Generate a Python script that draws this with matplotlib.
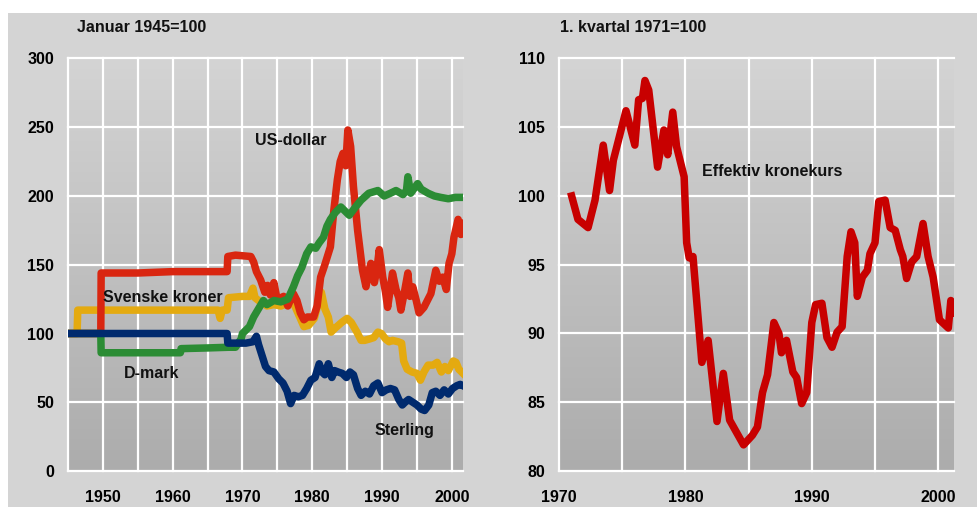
"""Valutakurser mot norske kroner og effektiv kronekurs."""

import matplotlib
matplotlib.use('Agg')
import matplotlib.pyplot as plt
import numpy as np
from matplotlib import font_manager

# Pick a font close to the original (Arial-like bold)
names = {f.name for f in font_manager.fontManager.ttflist}
FONT = 'Liberation Sans' if 'Liberation Sans' in names else 'DejaVu Sans'
plt.rcParams['font.family'] = [FONT, 'DejaVu Sans']

#########################################################################################
# Data: left panel, Januar 1945=100

usd_years = [1945, 1949.7, 1949.75, 1955, 1960, 1965, 1967.8, 1967.9, 1969, 1971.2, 1971.6,
             1972.0, 1972.6, 1973.2, 1973.6, 1974.0, 1974.5, 1975.0, 1975.5, 1975.9, 1976.5,
             1977.3, 1977.8, 1978.3, 1978.8, 1979.3, 1980.2, 1980.7, 1981.2, 1981.8, 1982.6,
             1983.1, 1983.6, 1984.0, 1984.4, 1984.8, 1985.1, 1985.5, 1985.9, 1986.5, 1987.2,
             1987.7, 1988.0, 1988.4, 1988.9, 1989.3, 1989.6, 1990.1, 1990.5, 1990.8, 1991.2,
             1991.5, 1992.0, 1992.4, 1992.7, 1993.2, 1993.7, 1994.0, 1994.4, 1994.9, 1995.3,
             1996.0, 1996.5, 1997.0, 1997.7, 1998.2, 1998.7, 1999.2, 1999.6, 2000.0, 2000.3,
             2000.9, 2001.3, 2001.7]
usd_vals = [100, 100, 144, 144, 145, 145, 145, 156, 157, 156, 152,
            145, 139, 130, 135, 128, 137, 124, 126, 127, 120,
            129, 124, 115, 110, 112, 112, 120, 141, 150, 163,
            190, 212, 225, 231, 222, 248, 236, 207, 175, 146,
            134, 143, 151, 137, 148, 161, 141, 130, 119, 133,
            144, 132, 126, 117, 130, 144, 127, 134, 124, 115,
            119, 124, 129, 146, 138, 141, 132, 151, 158, 170,
            183, 172, 180]

dem_years = [1945, 1949.7, 1949.75, 1955, 1961.1, 1961.2, 1965, 1968, 1969.0, 1969.8, 1970.0,
             1971.0, 1971.6, 1972.3, 1973.0, 1973.5, 1974.5, 1975.5, 1976.5, 1977.3, 1977.9,
             1978.5, 1979.2, 1979.8, 1980.5, 1981.0, 1981.6, 1982.1, 1982.6, 1983.3, 1984.1,
             1985.3, 1986.2, 1987.0, 1988.1, 1989.4, 1990.3, 1991.2, 1992.0, 1993.0, 1993.5,
             1993.7, 1994.1, 1995.1, 1995.6, 1996.6, 1997.5, 1998.4, 1999.5, 2000.5, 2001.7]
dem_vals = [100, 100, 86, 86, 86, 89, 89.5, 90, 90, 96, 100,
            105, 112, 118, 124, 121, 124, 123, 125, 134, 142,
            148, 158, 163, 162, 166, 170, 178, 183, 188, 192,
            186, 192, 197, 202, 204, 200, 202, 204, 201, 204,
            214, 202, 209, 205, 202, 200, 199, 198, 199, 199]

sek_years = [1945, 1946.3, 1946.4, 1955, 1966.5, 1966.8, 1967.1, 1967.8, 1968.0, 1970, 1971.0,
             1971.5, 1971.8, 1972.3, 1973.0, 1973.5, 1974.5, 1975.5, 1976.5, 1977.0, 1977.5,
             1978.2, 1978.8, 1979.5, 1980.3, 1980.8, 1981.3, 1981.8, 1982.3, 1982.7, 1983.3,
             1984.2, 1985.0, 1985.6, 1986.4, 1987.0, 1987.5, 1988.2, 1988.8, 1989.4, 1989.9,
             1990.5, 1991.0, 1991.5, 1992.3, 1992.8, 1993.1, 1993.6, 1994.3, 1995.0, 1995.5,
             1996.0, 1996.6, 1997.3, 1997.9, 1998.5, 1999.0, 1999.5, 2000.2, 2000.6, 2001.0,
             2001.6]
sek_vals = [100, 100, 117, 117, 117, 111, 117, 117, 126, 127, 127,
            133, 126, 124, 122, 120, 121, 120, 122, 125, 120,
            112, 105, 106, 111, 121, 130, 118, 112, 101, 104,
            108, 111, 108, 101, 95, 95, 96, 97, 101, 100,
            96, 94, 95, 94, 93, 80, 74, 72, 71, 66,
            72, 77, 77, 79, 72, 76, 73, 80, 79, 74,
            71]

gbp_years = [1945, 1967.8, 1967.9, 1969, 1970.5, 1971.5, 1972.0, 1972.3, 1972.8, 1973.3, 1973.8,
             1974.5, 1975.2, 1975.8, 1976.4, 1976.9, 1977.4, 1978.0, 1978.6, 1979.2, 1979.8,
             1980.4, 1981.0, 1981.4, 1981.8, 1982.3, 1982.8, 1983.2, 1983.7, 1984.3, 1984.9,
             1985.4, 1985.9, 1986.5, 1987.0, 1987.6, 1988.2, 1988.8, 1989.4, 1990.0, 1990.6,
             1991.2, 1991.8, 1992.4, 1992.9, 1993.3, 1993.8, 1994.4, 1995.0, 1995.6, 1996.1,
             1996.7, 1997.2, 1997.7, 1998.3, 1998.9, 1999.5, 2000.1, 2000.7, 2001.2, 2001.6]
gbp_vals = [100, 100, 93, 93, 93, 94, 98, 92, 84, 76, 73,
            72, 67, 64, 58, 49, 55, 54, 55, 60, 66,
            68, 78, 72, 70, 78, 68, 73, 72, 71, 68,
            72, 70, 60, 55, 58, 56, 62, 64, 57, 59,
            60, 59, 52, 48, 50, 52, 50, 48, 45, 44,
            48, 57, 58, 55, 59, 56, 60, 62, 63, 62]

# Data: right panel, 1. kvartal 1971=100
nok_years = [1971.0, 1971.5, 1972.3, 1972.85, 1973.5, 1974.0, 1974.3, 1975.3, 1976.0, 1976.3,
             1976.6, 1976.8, 1977.1, 1977.8, 1978.3, 1978.6, 1979.0, 1979.3, 1979.9, 1980.1,
             1980.3, 1980.6, 1981.3, 1981.8, 1982.5, 1983.0, 1983.5, 1984.6, 1985.3, 1985.7,
             1986.1, 1986.5, 1987.0, 1987.4, 1987.6, 1988.0, 1988.5, 1988.8, 1989.2, 1989.6,
             1990.0, 1990.3, 1990.8, 1991.2, 1991.6, 1992.0, 1992.4, 1992.8, 1993.1, 1993.4,
             1993.6, 1994.0, 1994.4, 1994.6, 1995.0, 1995.3, 1995.8, 1996.2, 1996.6, 1997.0,
             1997.2, 1997.5, 1997.9, 1998.3, 1998.8, 1999.2, 1999.6, 2000.1, 2000.8, 2001.0,
             2001.25]
nok_vals = [100.0, 98.3, 97.7, 99.7, 103.7, 100.4, 102.6, 106.2, 103.7, 107.0,
            107.1, 108.4, 107.7, 102.1, 104.8, 103.0, 106.1, 103.6, 101.4, 96.6,
            95.5, 95.6, 87.9, 89.5, 83.6, 87.1, 83.7, 81.9, 82.6, 83.2,
            85.7, 87.0, 90.8, 90.0, 88.6, 89.5, 87.2, 86.8, 84.9, 85.7,
            90.8, 92.1, 92.2, 89.7, 89.0, 90.1, 90.5, 95.6, 97.4, 96.6,
            92.7, 94.1, 94.6, 95.8, 96.6, 99.6, 99.7, 97.7, 97.5, 96.1,
            95.6, 94.0, 95.2, 95.6, 98.0, 95.6, 94.1, 91.0, 90.4, 92.4,
            91.5]

left_ticks_y = [0, 50, 100, 150, 200, 250, 300]
right_ticks_y = [80, 85, 90, 95, 100, 105, 110]

#########################################################################################

W, H = 978, 507
BG = '#d4d4d4'


def px(x, y):
    """Pixel position (from top left) to figure fraction."""
    return x / W, 1 - y / H


def style_axes(ax, xlim, ylim, xgrid, ygrid, xlabels):
    """Gradient background, white grid, bold tick labels."""

    ax.set_xlim(xlim)
    ax.set_ylim(ylim)
    ax.patch.set_visible(False)

    # Vertical grey gradient, light at top and darker at bottom
    grad = np.linspace(0, 1, 256).reshape(-1, 1)
    cmap = matplotlib.colors.LinearSegmentedColormap.from_list('g', ['#acacac', '#d4d4d4'])
    ax.imshow(grad, extent=[xlim[0], xlim[1], ylim[0], ylim[1]], origin='lower',
              aspect='auto', cmap=cmap, zorder=0)

    for xv in xgrid:
        ax.axvline(xv, color='white', lw=1.6, zorder=1, clip_on=False)
    for yv in ygrid:
        ax.axhline(yv, color='white', lw=1.6, zorder=1, clip_on=False)

    for s in ax.spines.values():
        s.set_visible(False)

    ax.set_xticks(xgrid)
    ax.set_xticklabels(xlabels)
    ax.set_yticks(ygrid)
    ax.tick_params(length=0, labelsize=11.5, colors='black')
    ax.tick_params(axis='x', pad=14)
    ax.tick_params(axis='y', pad=10)
    for lab in ax.get_xticklabels() + ax.get_yticklabels():
        lab.set_fontweight('bold')


fig = plt.figure(figsize=(W / 100, H / 100), dpi=100)
fig.patch.set_facecolor('white')
bg = plt.Rectangle((8 / W, 0), 1 - 8 / W, (H - 13) / H, transform=fig.transFigure,
                   facecolor=BG, edgecolor='none', zorder=-10)
fig.add_artist(bg)

# Left panel
ax1 = fig.add_axes([68 / W, 36 / H, 395 / W, 412.5 / H])
x1grid = list(range(1945, 2001, 5))
style_axes(ax1, (1945, 2001.6), (0, 300), x1grid, left_ticks_y,
           [str(y) if y % 10 == 0 else '' for y in x1grid])

lw = 5.4
ax1.plot(usd_years, usd_vals, color='#d92610', lw=lw, zorder=3)
ax1.plot(sek_years, sek_vals, color='#e4aa10', lw=lw, zorder=2.5)
ax1.plot(dem_years, dem_vals, color='#2b8c34', lw=lw, zorder=3.5)
ax1.plot(gbp_years, gbp_vals, color='#002a6e', lw=lw, zorder=4)

# Right panel
ax2 = fig.add_axes([559 / W, 36 / H, 395 / W, 412.5 / H])
x2grid = list(range(1970, 2001, 5))
style_axes(ax2, (1970, 2001.25), (80, 110), x2grid, right_ticks_y,
           [str(y) if y % 10 == 0 else '' for y in x2grid])
ax2.plot(nok_years, nok_vals, color='#c80000', lw=5.4, zorder=3, solid_joinstyle='round')

# Titles and series labels
txt = dict(fontsize=11.5, fontweight='bold', va='center', ha='left', color='#111111')
fig.text(*px(77, 27), 'Januar 1945=100', **txt)
fig.text(*px(560, 27), '1. kvartal 1971=100', **txt)
fig.text(*px(255, 140), 'US-dollar', **txt)
fig.text(*px(103, 297), 'Svenske kroner', **txt)
fig.text(*px(124, 373), 'D-mark', **txt)
fig.text(*px(375, 430), 'Sterling', **txt)
fig.text(*px(702, 171), 'Effektiv kronekurs', **txt)

fig.savefig('out.png', dpi=100, facecolor=fig.get_facecolor())
